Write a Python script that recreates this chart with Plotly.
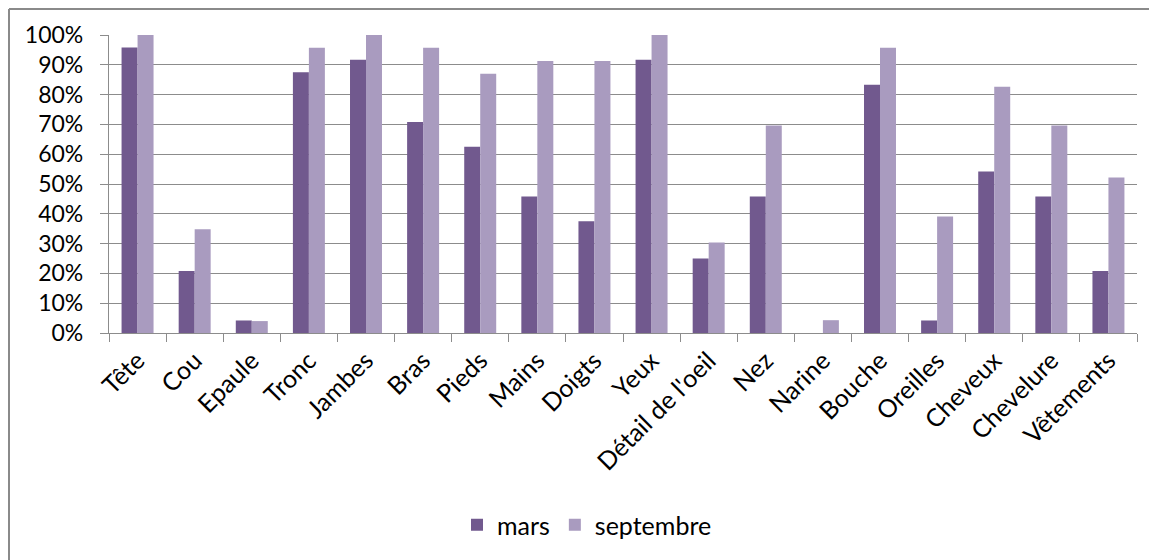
import plotly.graph_objects as go

categories = ["Tête", "Cou", "Epaule", "Tronc", "Jambes", "Bras", "Pieds", "Mains", "Doigts",
              "Yeux", "Détail de l'oeil", "Nez", "Narine", "Bouche", "Oreilles", "Cheveux",
              "Chevelure", "Vêtements"]
mars = [95.8, 20.8, 4.2, 87.5, 91.7, 70.8, 62.5, 45.8, 37.5,
        91.7, 25.0, 45.8, 0.0, 83.3, 4.2, 54.2, 45.8, 20.8]
septembre = [100.0, 34.8, 4.0, 95.7, 100.0, 95.7, 87.0, 91.3, 91.3,
             100.0, 30.4, 69.6, 4.3, 95.7, 39.1, 82.6, 69.6, 52.2]
y_ticks = list(range(0, 101, 10))
y_labels = [f"{v}%" for v in y_ticks]

FONT = "Lato"
GRID = "#8c8c8c"

fig = go.Figure()
fig.add_trace(go.Bar(name="mars", x=categories, y=mars, marker_color="#71598E",
                     marker_line_width=0))
fig.add_trace(go.Bar(name="septembre", x=categories, y=septembre, marker_color="#A99BBF",
                     marker_line_width=0))

# page body has an 8px margin; work in screen coordinates and convert
OFF = 8
SL, SR, ST, SB = 109, 1137, 35, 333   # plot area in screen pixels
W, H = 1157 - OFF, 560 - OFF
L, T = SL - OFF, ST - OFF
R = W - (SR - OFF)
B = H - (SB - OFF)
pw = SR - SL
ph = SB - ST

def px_x(x):
    return (x - SL) / pw

def px_y(y):
    return (SB - y) / ph

fig.update_layout(
    width=W, height=H,
    margin=dict(l=L, r=R, t=T, b=B, pad=0),
    paper_bgcolor="white", plot_bgcolor="white",
    barmode="group", bargap=0.44, bargroupgap=0,
    font=dict(family=FONT, color="black", size=22),
    xaxis=dict(
        type="category", tickson="boundaries", ticks="outside", ticklen=8,
        tickcolor=GRID, tickwidth=1.25, showline=True, linecolor=GRID, linewidth=1.25,
        tickangle=-45, tickfont=dict(family=FONT, size=25), showgrid=False,
        ticklabelstandoff=2,
    ),
    yaxis=dict(
        range=[0, 100], tickvals=y_ticks, ticktext=y_labels, ticks="outside", ticklen=8,
        tickcolor=GRID, tickwidth=1.25, showline=True, linecolor=GRID, linewidth=1.25,
        showgrid=True, gridcolor=GRID, gridwidth=1.25, zeroline=False,
        tickfont=dict(family=FONT, size=23), ticklabelstandoff=12,
    ),
    legend=dict(
        orientation="h", x=px_x(457), xanchor="left", y=px_y(525), yanchor="middle",
        font=dict(family=FONT, size=25), bgcolor="rgba(0,0,0,0)", itemwidth=30,
    ),
    shapes=[
        dict(type="line", xref="paper", yref="paper", x0=px_x(9), x1=px_x(9),
             y0=px_y(9), y1=px_y(570), line=dict(color="#8a8a8a", width=2)),
        dict(type="line", xref="paper", yref="paper", x0=px_x(9), x1=px_x(1170),
             y0=px_y(9), y1=px_y(9), line=dict(color="#8a8a8a", width=2)),
    ],
)

fig.write_html("out.html")
